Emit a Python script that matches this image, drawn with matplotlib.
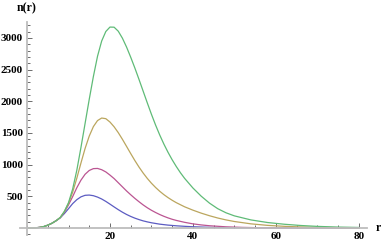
import numpy as np
import matplotlib
matplotlib.use("Agg")
import matplotlib.pyplot as plt
from matplotlib.ticker import MultipleLocator, FixedLocator

# values
r_blue = [0, 1, 2, 3, 4, 5, 6, 7, 8, 9, 10, 11, 12, 13, 14, 15, 16, 17, 18, 19, 20, 21, 22,
          23, 24, 25, 26, 27, 28, 29, 30, 32, 34, 36, 38, 40, 45, 50, 60, 70, 80]
n_blue = [0, 0.5, 3, 10, 22, 45, 75, 115, 160, 228, 305, 385, 447, 492, 516, 520, 510, 488,
          458, 420, 377, 333, 290, 250, 214, 183, 156, 133, 113, 97, 83, 61, 46, 35, 27, 20,
          9, 4, 1, 0.3, 0]

r_red = [0, 1, 2, 3, 4, 5, 6, 7, 8, 9, 10, 11, 12, 13, 14, 15, 16, 17, 18, 19, 20, 21, 22,
         23, 24, 25, 26, 27, 28, 29, 30, 31, 32, 33, 34, 35, 36, 38, 40, 42, 44, 48, 52, 56,
         60, 70, 80]
n_red = [0, 0.5, 3, 10, 22, 45, 75, 115, 163, 250, 365, 495, 635, 755, 848, 908, 937, 940,
         920, 885, 835, 780, 715, 650, 585, 525, 468, 415, 365, 320, 280, 245, 213, 185, 160,
         138, 120, 90, 66, 49, 36, 19, 10, 5, 3, 1, 0]

r_olive = [0, 1, 2, 3, 4, 5, 6, 7, 8, 9, 10, 11, 12, 13, 14, 15, 16, 17, 18, 19, 20, 21, 22,
           23, 24, 25, 26, 27, 28, 29, 30, 31, 32, 33, 34, 35, 36, 38, 40, 42, 44, 46, 48, 50,
           54, 58, 62, 66, 70, 75, 80]
n_olive = [0, 0.5, 3, 10, 22, 45, 75, 115, 165, 258, 388, 565, 785, 1025, 1255, 1450, 1600,
           1695, 1735, 1725, 1672, 1597, 1505, 1400, 1288, 1175, 1065, 962, 868, 783, 707, 640,
           580, 527, 480, 438, 400, 335, 282, 235, 194, 158, 128, 103, 66, 42, 27, 17, 11, 6, 3]

r_green = [0, 1, 2, 3, 4, 5, 6, 7, 8, 9, 10, 11, 12, 13, 14, 15, 16, 17, 18, 19, 20, 21, 22,
           23, 24, 25, 26, 27, 28, 29, 30, 31, 32, 33, 34, 35, 36, 37, 38, 40, 42, 44, 46, 48,
           50, 54, 58, 62, 66, 70, 75, 80]
n_green = [0, 0.5, 3, 10, 22, 45, 75, 115, 166, 262, 400, 615, 910, 1270, 1650, 2030, 2390,
           2710, 2950, 3100, 3170, 3168, 3105, 2995, 2855, 2695, 2525, 2345, 2160, 1975, 1795,
           1625, 1468, 1325, 1195, 1077, 970, 872, 784, 632, 503, 393, 305, 240, 192, 128, 87,
           60, 40, 26, 15, 9]

x_major = [20, 40, 60, 80]
y_major = [500, 1000, 1500, 2000, 2500, 3000]

plt.rcParams['font.family'] = ['Liberation Serif', 'DejaVu Serif']
plt.rcParams['font.weight'] = 'bold'

W, H = 382, 246
fig = plt.figure(figsize=(W / 100, H / 100), dpi=100)
ax = fig.add_axes([20 / W, 1 - 235 / H, 347 / W, 213 / H])

lw = 0.9
ax.plot(r_blue, n_blue, color='#5c5cc2', lw=lw)
ax.plot(r_red, n_red, color='#bb5592', lw=lw)
ax.plot(r_olive, n_olive, color='#bba65e', lw=lw)
ax.plot(r_green, n_green, color='#5fbb77', lw=lw)

ax.set_xlim(-1.7, 82)
ax.set_ylim(-110, 3250)

for s in ['top', 'right']:
    ax.spines[s].set_visible(False)
for s in ['left', 'bottom']:
    ax.spines[s].set_position(('data', 0))
    ax.spines[s].set_color('#bdbdbd')
    ax.spines[s].set_linewidth(1.3)
# axis lines run a little past the origin, like the original
ax.spines['left'].set_bounds(-110, 3250)
ax.spines['bottom'].set_bounds(-1.7, 82)

ax.xaxis.set_major_locator(FixedLocator(x_major))
ax.yaxis.set_major_locator(FixedLocator(y_major))
ax.xaxis.set_minor_locator(MultipleLocator(5))
ax.yaxis.set_minor_locator(MultipleLocator(100))
ax.tick_params(which='both', direction='in', color='#555555', width=0.6,
               labelsize=8, pad=3)
ax.tick_params(which='major', length=3.5)
ax.tick_params(which='minor', length=2)
for lab in ax.get_xticklabels() + ax.get_yticklabels():
    lab.set_fontweight('bold')

fig.text(27 / W, 1 - 8 / H, 'n(r)', ha='center', va='center', fontsize=8.5,
         fontweight='bold')
fig.text(378 / W, 1 - 228 / H, 'r', ha='center', va='center', fontsize=8.5,
         fontweight='bold')

fig.savefig('out.png', dpi=100)
